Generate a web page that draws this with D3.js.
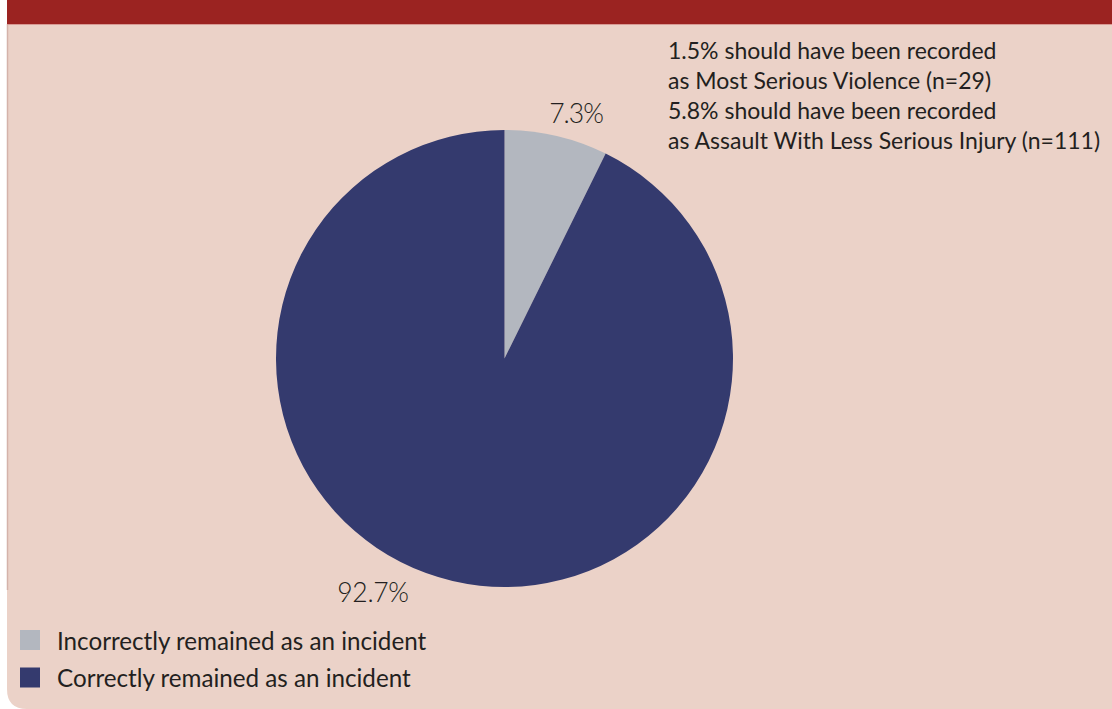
<!DOCTYPE html>
<html><head><meta charset="utf-8">
<script src="https://cdn.jsdelivr.net/npm/d3@7"></script>
<style>body{margin:0;background:#fff;}svg{display:block;}text{font-family:Lato,"Open Sans",sans-serif;fill:#231f20;}</style>
</head><body><svg id="c" width="1112" height="709"></svg>
<script>
const categories = ["Incorrectly remained as an incident", "Correctly remained as an incident"];
const values = [7.3, 92.7];
const valueLabels = ["7.3%", "92.7%"];
const colors = ["#b3b7bf", "#343a6e"];
const noteLines = ["1.5% should have been recorded", "as Most Serious Violence (n=29)", "5.8% should have been recorded", "as Assault With Less Serious Injury (n=111)"];

const svg = d3.select("#c");
const W = 1112, H = 709;
// panel
svg.append("path").attr("d", `M7,24 H${W} V${H} H27 Q7,${H} 7,${H-20} Z`).attr("fill", "#ebd2c8");
svg.append("line").attr("x1", 7.5).attr("x2", 7.5).attr("y1", 24).attr("y2", 590).attr("stroke", "#d4b3aa").attr("stroke-width", 1.5);
svg.append("rect").attr("x", 7).attr("y", 0).attr("width", W - 7).attr("height", 24).attr("fill", "#9b2321");
svg.append("line").attr("x1", 7).attr("x2", W).attr("y1", 24.5).attr("y2", 24.5).attr("stroke", "#d89a94").attr("stroke-width", 1);

const cx = 504.5, cy = 358.5, r = 228.5;
const pie = d3.pie().sort(null).value(d => d)(values);
const arc = d3.arc().innerRadius(0).outerRadius(r);
const g = svg.append("g").attr("transform", `translate(${cx},${cy})`);
g.selectAll("path").data(pie).enter().append("path").attr("d", arc).attr("fill", (d, i) => colors[i]);

// value labels
const labelPos = [[576, 123], [373, 602]];
svg.selectAll("text.val").data(valueLabels).enter().append("text").attr("class", "val")
  .attr("x", (d, i) => labelPos[i][0]).attr("y", (d, i) => labelPos[i][1])
  .attr("text-anchor", "middle").style("font-size", "26.5px").style("font-weight", 300)
  .style("letter-spacing", (d, i) => i === 0 ? "-1px" : "-0.3px").text(d => d);

// note
svg.selectAll("text.note").data(noteLines).enter().append("text").attr("class", "note")
  .attr("x", 668).attr("y", (d, i) => 59 + i * 30).style("font-size", "23px").text(d => d);

// legend
const lg = svg.selectAll("g.leg").data(categories).enter().append("g").attr("class", "leg")
  .attr("transform", (d, i) => `translate(20,${630 + i * 37.5})`);
lg.append("rect").attr("width", 20).attr("height", 20).attr("fill", (d, i) => colors[i]);
lg.append("text").attr("x", 37).attr("y", 19.5).style("font-size", "24.2px").text(d => d);
</script></body></html>
